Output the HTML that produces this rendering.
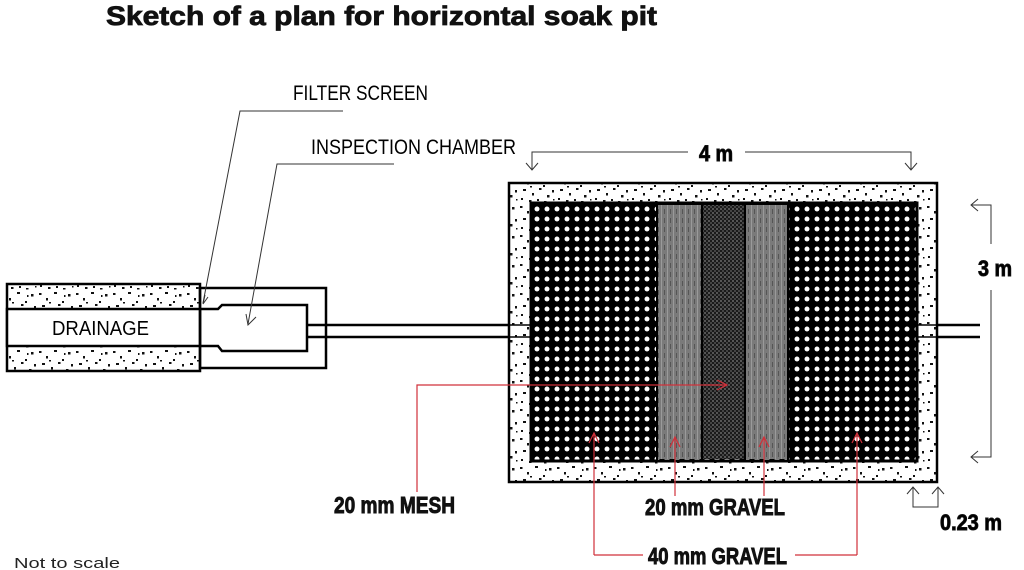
<!DOCTYPE html>
<html><head><meta charset="utf-8"><style>
html,body{margin:0;padding:0;background:#fff;}
svg{display:block;}
.c{font-family:"Liberation Sans Narrow","Liberation Sans",sans-serif;}
.b{stroke:#111;stroke-width:0.9;}
</style></head><body>
<svg width="1024" height="570" viewBox="0 0 1024 570" xmlns="http://www.w3.org/2000/svg">
<defs>
<pattern id="sp" width="37" height="29" patternUnits="userSpaceOnUse">
<rect width="37" height="29" fill="#fff"/>
<g fill="#111">
<rect x="2" y="3" width="2.5" height="2"/><rect x="9" y="8" width="2" height="2.5"/><rect x="17" y="2" width="3" height="2"/>
<rect x="25" y="11" width="2" height="2"/><rect x="31" y="4" width="2.5" height="2.5"/><rect x="5" y="15" width="3" height="2"/>
<rect x="14" y="19" width="2" height="2.5"/><rect x="21" y="14" width="2.5" height="2"/><rect x="29" y="21" width="2.5" height="2.5"/>
<rect x="3" y="24" width="2" height="2"/><rect x="11" y="26" width="2.5" height="2"/><rect x="34" y="16" width="2" height="2.5"/>
<rect x="19" y="25" width="2" height="2"/><rect x="26" y="27" width="2.5" height="1.5"/><rect x="12" y="12" width="2" height="1.5"/>
<rect x="27" y="5" width="1.5" height="2"/><rect x="35" y="25" width="1.5" height="1.5"/>
</g>
</pattern>
<pattern id="mesh" x="531" y="203" width="10" height="10" patternUnits="userSpaceOnUse">
<rect width="10" height="10" fill="#000"/>
<circle cx="6" cy="6" r="2.5" fill="#fff"/>
</pattern>
<pattern id="chk" width="4" height="4" patternUnits="userSpaceOnUse">
<rect width="4" height="4" fill="#1a1a1a"/><rect width="2" height="2" fill="#555"/><rect x="2" y="2" width="2" height="2" fill="#444"/>
</pattern>
<pattern id="gr" width="6" height="9" patternUnits="userSpaceOnUse">
<rect width="6" height="9" fill="#7a7a7a"/><rect x="1" width="1" height="9" fill="#9a9a9a"/><rect x="4" y="2" width="1" height="5" fill="#555"/>
</pattern>
</defs>

<text x="106" y="25" font-family="Liberation Sans,sans-serif" font-weight="bold" font-size="27" textLength="551" lengthAdjust="spacingAndGlyphs" fill="#111" stroke="#111" stroke-width="0.8">Sketch of a plan for horizontal soak pit</text>

<rect x="7" y="284" width="193" height="87" fill="url(#sp)" stroke="#000" stroke-width="2.5"/>
<rect x="7" y="309" width="193" height="37" fill="#fff" stroke="#000" stroke-width="2.5"/>
<text x="52" y="335" class="c" font-size="20" textLength="97" lengthAdjust="spacingAndGlyphs">DRAINAGE</text>
<rect x="200" y="288" width="126" height="80" fill="none" stroke="#000" stroke-width="2.5"/>
<path d="M200 309 H218 L222 305 H307 V351 H222 L218 346 H200" fill="none" stroke="#000" stroke-width="2.5"/>
<path d="M307 325 H510 M307 337 H510" stroke="#000" stroke-width="2.5"/>
<path d="M937 325 H980 M937 337 H980" stroke="#000" stroke-width="2.5"/>

<rect x="509" y="183" width="428" height="299" fill="url(#sp)" stroke="#000" stroke-width="2.5"/>
<path d="M509 325 H531 M509 337 H531 M917 325 H937 M917 337 H937" stroke="#000" stroke-width="1.5"/>
<rect x="531" y="203" width="386" height="258" fill="url(#mesh)" stroke="#000" stroke-width="3"/>
<rect x="657" y="205" width="45" height="254" fill="url(#gr)"/>
<rect x="702" y="205" width="43" height="254" fill="url(#chk)"/>
<rect x="745" y="205" width="43" height="254" fill="url(#gr)"/>
<path d="M657 204 V460 M702 204 V460 M745 204 V460 M788 204 V460" stroke="#000" stroke-width="2"/>

<text x="293" y="100" class="c" font-size="21" textLength="135" lengthAdjust="spacingAndGlyphs">FILTER SCREEN</text>
<path d="M343 111 H240 L203 303" fill="none" stroke="#333" stroke-width="1"/>
<path d="M205 295 L203 304 L208 297" fill="none" stroke="#333" stroke-width="1"/>
<text x="311" y="154" class="c" font-size="21" textLength="205" lengthAdjust="spacingAndGlyphs">INSPECTION CHAMBER</text>
<path d="M394 164 H277 L248 324" fill="none" stroke="#333" stroke-width="1"/>
<path d="M246 314 L248 325 L256 317" fill="none" stroke="#333" stroke-width="1"/>

<path d="M688 152 H532 V170 M745 152 H911 V170" fill="none" stroke="#333" stroke-width="1"/>
<path d="M526 163 L532 170 L538 163 M905 163 L911 170 L917 163" fill="none" stroke="#333" stroke-width="1"/>
<text x="699" y="161" class="c b" font-weight="bold" font-size="22" textLength="34" lengthAdjust="spacingAndGlyphs">4 m</text>

<path d="M971 205 H991 V244 M991 290 V457 H971" fill="none" stroke="#333" stroke-width="1"/>
<path d="M978 199 L971 205 L978 211 M978 451 L971 457 L978 463" fill="none" stroke="#333" stroke-width="1"/>
<text x="978" y="276" class="c b" font-weight="bold" font-size="22" textLength="34" lengthAdjust="spacingAndGlyphs">3 m</text>

<path d="M913 487 V507 H938 V487" fill="none" stroke="#333" stroke-width="1"/>
<path d="M907 494 L913 487 L919 494 M932 494 L938 487 L944 494" fill="none" stroke="#333" stroke-width="1"/>
<text x="940" y="530" class="c b" font-weight="bold" font-size="22" textLength="62" lengthAdjust="spacingAndGlyphs">0.23 m</text>

<g stroke="#d0303a" stroke-width="1.2" fill="none">
<path d="M417 492 V385 H727"/><path d="M717 380 L727 385 L717 390"/>
<path d="M675 496 V437"/><path d="M670 447 L675 437 L680 447"/>
<path d="M764 496 V437"/><path d="M759 447 L764 437 L769 447"/>
<path d="M594 555 V433 M594 555 H643"/><path d="M589 443 L594 433 L599 443"/>
<path d="M857 555 V433 M857 555 H795"/><path d="M852 443 L857 433 L862 443"/>
</g>
<text x="334" y="513" class="c b" font-weight="bold" font-size="23" textLength="121" lengthAdjust="spacingAndGlyphs" fill="#111">20 mm MESH</text>
<text x="645" y="515" class="c b" font-weight="bold" font-size="23" textLength="140" lengthAdjust="spacingAndGlyphs" fill="#111">20 mm GRAVEL</text>
<text x="648" y="564" class="c b" font-weight="bold" font-size="23" textLength="139" lengthAdjust="spacingAndGlyphs" fill="#111">40 mm GRAVEL</text>

<text x="14" y="568" font-family="Liberation Sans,sans-serif" font-size="15" fill="#222" textLength="106" lengthAdjust="spacingAndGlyphs">Not to scale</text>
</svg>
</body></html>
